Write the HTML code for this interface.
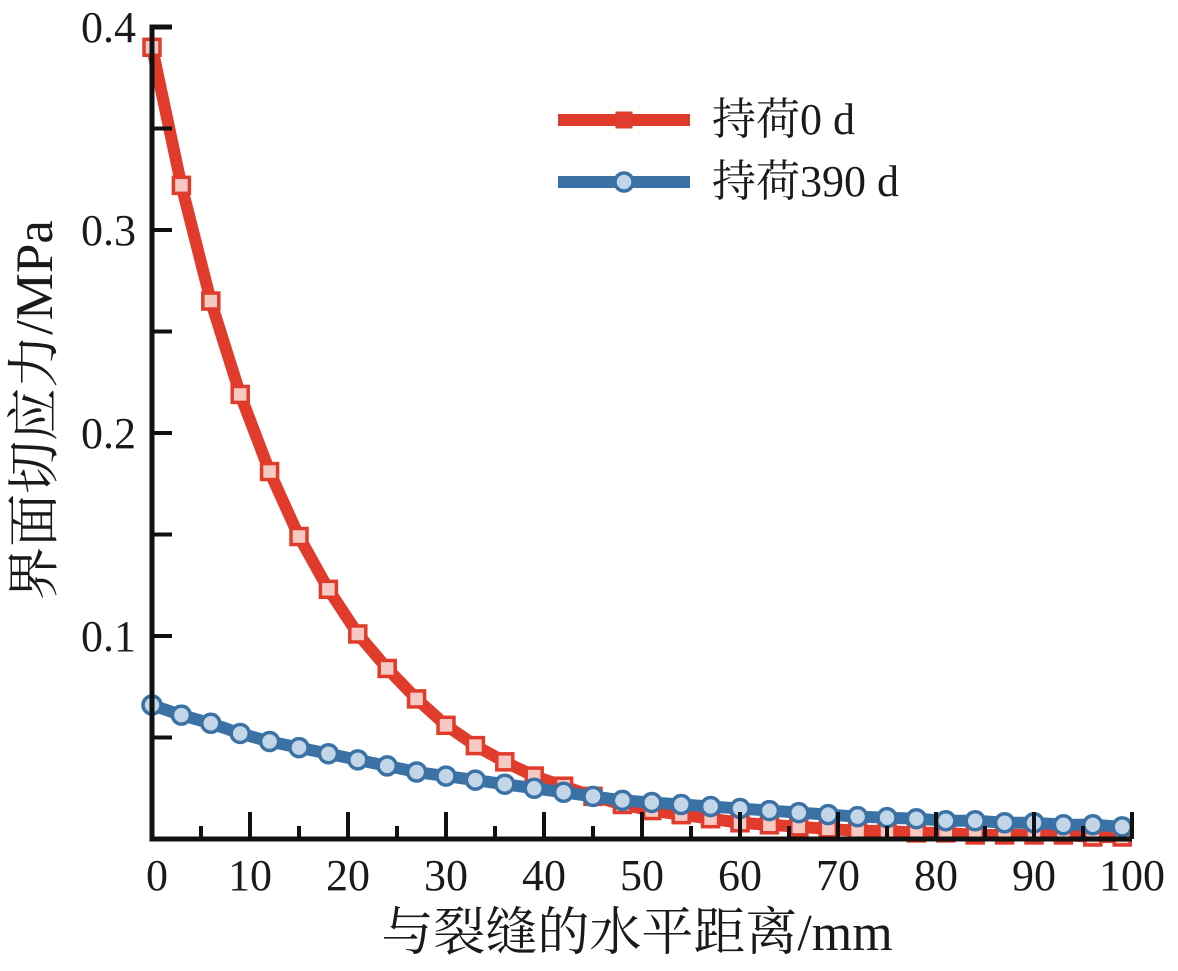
<!DOCTYPE html>
<html><head><meta charset="utf-8"><style>
body{margin:0;background:#fff}
text{font-family:"Liberation Serif","Noto Serif CJK SC",serif;fill:#1a1a1a}
</style></head><body>
<svg id="c" width="1178" height="966"></svg>
<script>
const xs=[0,3,6,9,12,15,18,21,24,27,30,33,36,39,42,45,48,51,54,57,60,63,66,69,72,75,78,81,84,87,90,93,96,99];
const red=[0.390,0.322,0.265,0.219,0.181,0.149,0.123,0.101,0.084,0.069,0.056,0.046,0.038,0.031,0.026,0.021,0.017,0.014,0.012,0.010,0.008,0.007,0.006,0.005,0.004,0.004,0.003,0.003,0.002,0.002,0.002,0.002,0.001,0.001];
const blue=[0.066,0.061,0.057,0.052,0.048,0.045,0.042,0.039,0.036,0.033,0.031,0.029,0.027,0.025,0.023,0.021,0.019,0.018,0.017,0.016,0.015,0.014,0.013,0.012,0.011,0.0105,0.010,0.009,0.009,0.008,0.008,0.007,0.007,0.006];
const xTicks=[0,10,20,30,40,50,60,70,80,90,100];
const yTicks=[0.1,0.2,0.3,0.4];
const NS='http://www.w3.org/2000/svg';
const svg=document.getElementById('c');
const X=v=>152+v*9.8, Y=v=>839-v*2030;
function el(t,a,p){const e=document.createElementNS(NS,t);for(const k in a)e.setAttribute(k,a[k]);(p||svg).appendChild(e);return e;}
const RED='#e03b2b',BLUE='#3b72a6';
function path(arr){return arr.map((v,i)=>(i?'L':'M')+X(xs[i])+','+Y(v)).join('');}
const rl=el('path',{d:path(red),fill:'none',stroke:RED,'stroke-width':12,'stroke-linejoin':'round'});


red.forEach((v,i)=>{const m=el('rect',{x:X(xs[i])-8,y:Y(v)-8,width:16,height:16,fill:'#f6c9c2',stroke:RED,'stroke-width':3.5});

});
const bl=el('path',{d:path(blue),fill:'none',stroke:BLUE,'stroke-width':12,'stroke-linejoin':'round'});


blue.forEach((v,i)=>{const m=el('circle',{cx:X(xs[i]),cy:Y(v),r:9,fill:'#c3d6e8',stroke:BLUE,'stroke-width':3.5});

});
const ax=el('path',{d:'M172,27H152V839H1132',fill:'none',stroke:'#111','stroke-width':5});


for(let v=0;v<=100;v+=5){el('line',{x1:X(v),x2:X(v),y1:839,y2:v%10?826:812,stroke:'#111','stroke-width':4});}
for(let k=1;k<8;k++){const v=k*0.05;el('line',{x1:152,x2:172,y1:Y(v),y2:Y(v),stroke:'#111','stroke-width':4});}
xTicks.forEach(v=>{const t=el('text',{x:X(v)+(v===0?5:0),y:890,'font-size':44,'text-anchor':'middle'});t.textContent=v;

});
yTicks.forEach(v=>{const t=el('text',{x:136,y:Y(v)+15,'font-size':44,'text-anchor':'end'});t.textContent=v.toFixed(1);

});
const xt=el('text',{x:637,y:950,'font-size':52,'text-anchor':'middle'});xt.textContent='与裂缝的水平距离/mm';


const yt=el('text',{x:0,y:0,'font-size':53,'text-anchor':'middle',transform:'translate(52,410) rotate(-90)'});yt.textContent='界面切应力/MPa';


[[RED,'持荷0 d',120,'rect'],[BLUE,'持荷390 d',182,'circle']].forEach(([c,lab,y,s])=>{
const g=el('g',{});


el('line',{x1:558,x2:690,y1:y,y2:y,stroke:c,'stroke-width':12},g);
if(s==='rect')el('rect',{x:616,y:y-8,width:16,height:16,fill:c,stroke:c},g);
else el('circle',{cx:624,cy:y,r:9,fill:'#c3d6e8',stroke:c,'stroke-width':3.5},g);
const t=el('text',{x:712,y:y+14,'font-size':44},g);t.textContent=lab;});
</script>
</body></html>
